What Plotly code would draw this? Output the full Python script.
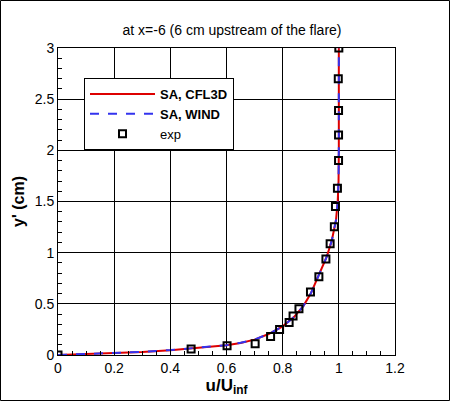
import plotly.graph_objects as go

# experimental profile
exp_u = [0.0, 0.474, 0.602, 0.702, 0.757, 0.789, 0.823, 0.837, 0.858, 0.899, 0.929,
         0.954, 0.969, 0.984, 0.988, 0.995, 0.999, 0.999, 0.999, 0.998, 1.0]
exp_y = [0.0, 0.059, 0.091, 0.109, 0.182, 0.248, 0.318, 0.381, 0.452, 0.616, 0.765,
         0.938, 1.087, 1.254, 1.45, 1.63, 1.90, 2.15, 2.39, 2.70, 3.0]

# SA, CFL3D
cfl3d_u = [0.0, 0.1, 0.2, 0.3, 0.4, 0.5, 0.6, 0.65, 0.7, 0.75, 0.8, 0.84, 0.874, 0.9,
           0.921, 0.94, 0.957, 0.975, 0.99, 0.996, 0.999, 1.0, 1.0]
cfl3d_y = [0.0, 0.008, 0.018, 0.03, 0.047, 0.068, 0.095, 0.118, 0.15, 0.205, 0.28, 0.37,
           0.48, 0.6, 0.73, 0.84, 0.96, 1.12, 1.32, 1.5, 1.7, 2.0, 3.0]

# SA, WIND
wind_u = [0.0, 0.1, 0.2, 0.3, 0.4, 0.5, 0.6, 0.65, 0.7, 0.75, 0.8, 0.84, 0.874, 0.9,
          0.921, 0.94, 0.957, 0.975, 0.99, 0.996, 0.999, 1.0, 1.0]
wind_y = [0.0, 0.009, 0.019, 0.031, 0.048, 0.069, 0.096, 0.119, 0.151, 0.206, 0.28, 0.37,
          0.48, 0.6, 0.73, 0.84, 0.96, 1.12, 1.32, 1.5, 1.7, 2.0, 3.0]

font = "Liberation Sans, Arial, sans-serif"

fig = go.Figure()
fig.add_trace(go.Scatter(x=cfl3d_u, y=cfl3d_y, mode='lines', name='<b>SA, CFL3D</b>',
                         line=dict(color='#dd0000', width=2)))
fig.add_trace(go.Scatter(x=wind_u, y=wind_y, mode='lines', name='<b>SA, WIND</b>',
                         line=dict(color='#3333ee', width=2, dash='dash')))
fig.add_trace(go.Scatter(x=exp_u, y=exp_y, mode='markers', name='exp',
                         marker=dict(symbol='square-open', size=7, color='black',
                                     line=dict(width=2, color='black'))))

axis_common = dict(showgrid=True, gridcolor='black', gridwidth=1, showline=True,
                   linecolor='black', linewidth=1, mirror=True, ticks='inside',
                   ticklen=8, tickcolor='black', zeroline=False,
                   tickfont=dict(family=font, size=14, color='black'))

fig.update_layout(
    width=450, height=401,
    margin=dict(l=58, r=55, t=48, b=46),
    paper_bgcolor='white', plot_bgcolor='white',
    title=dict(text='at x=-6 (6 cm upstream of the flare)', x=232 / 450, xanchor='center',
               y=1 - 30 / 401, yanchor='middle',
               font=dict(family=font, size=14, color='black')),
    xaxis=dict(axis_common, range=[0, 1.2], dtick=0.2,
               minor=dict(dtick=0.05, ticks='inside', ticklen=4, tickcolor='black', showgrid=False),
               title=dict(text='<b>u/U<sub>inf</sub></b>', standoff=2,
                          font=dict(family=font, size=17, color='black'))),
    yaxis=dict(axis_common, range=[0, 3], dtick=0.5,
               minor=dict(dtick=0.1, ticks='inside', ticklen=4, tickcolor='black', showgrid=False),
               title=dict(text="<b>y' (cm)</b>", standoff=6,
                          font=dict(family=font, size=16, color='black'))),
    legend=dict(x=(84 - 58) / 337, y=1 - (78 - 48) / 307, xanchor='left', yanchor='top',
                bgcolor='white', bordercolor='black', borderwidth=1,
                font=dict(family=font, size=13, color='black'),
                itemwidth=65, tracegroupgap=0),
    showlegend=True,
)

# outer frame of the picture
fig.add_shape(type='rect', xref='paper', yref='paper',
              x0=-57.5 / 337, x1=1 + 54.5 / 337, y0=-45.5 / 307, y1=1 + 47.5 / 307,
              line=dict(color='black', width=1))

# remove the default page margin so the figure sits at the window corner
fig.write_html("out.html", config={'displayModeBar': False},
               post_script="document.body.style.margin='0';")
